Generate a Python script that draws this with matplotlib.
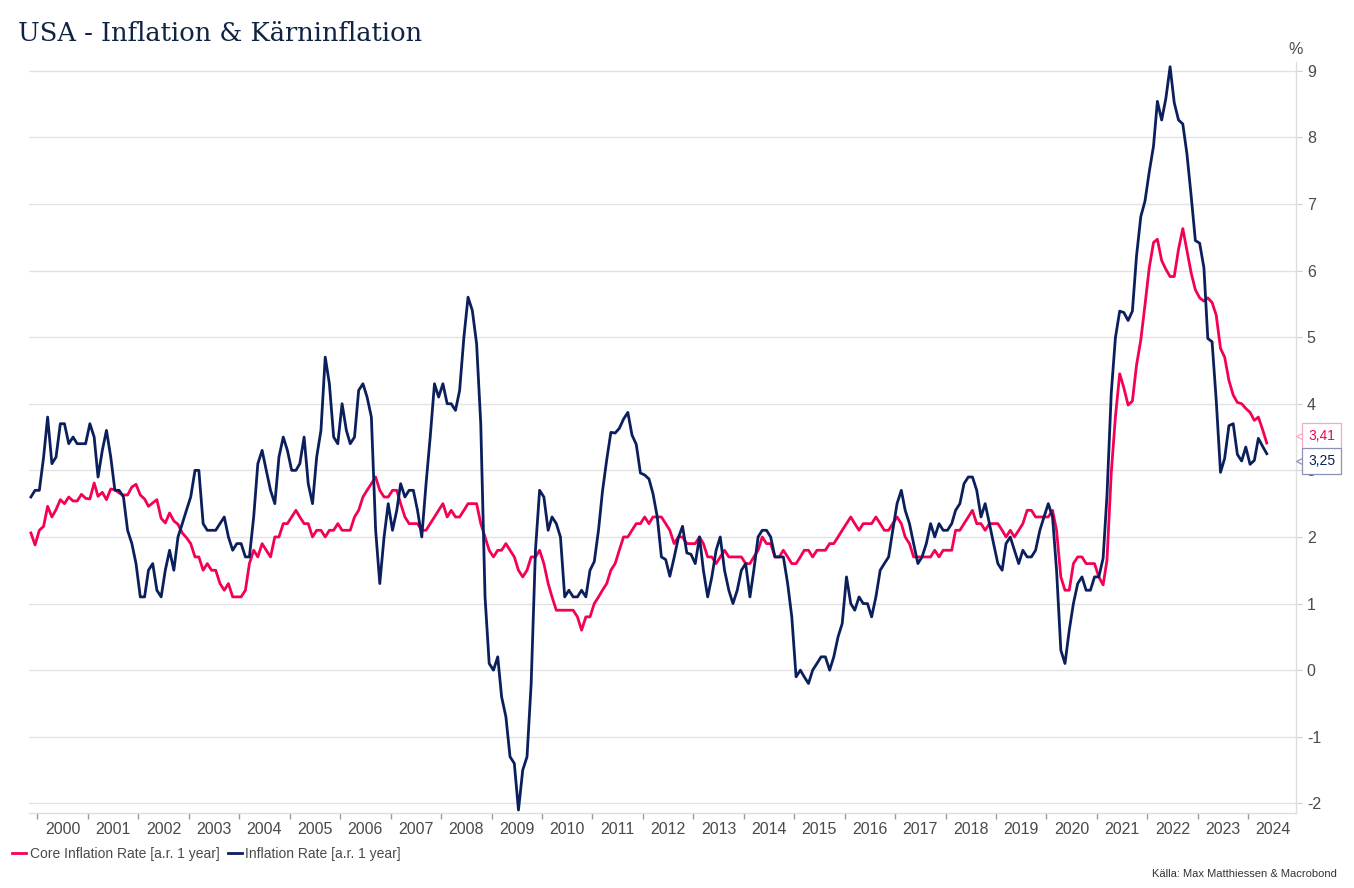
import matplotlib.pyplot as plt
import matplotlib.dates as mdates
import matplotlib.transforms as mtransforms
import pandas as pd

# monthly data, Nov 1999 - May 2024 (year-over-year %)
start_month = '1999-11-01'
end_month = '2024-05-01'

inflation = [
    2.6, 2.7,                                                         # 1999 Nov-Dec
    2.7, 3.2, 3.8, 3.1, 3.2, 3.7, 3.7, 3.4, 3.5, 3.4, 3.4, 3.4,       # 2000
    3.7, 3.5, 2.9, 3.3, 3.6, 3.2, 2.7, 2.7, 2.6, 2.1, 1.9, 1.6,       # 2001
    1.1, 1.1, 1.5, 1.6, 1.2, 1.1, 1.5, 1.8, 1.5, 2.0, 2.2, 2.4,       # 2002
    2.6, 3.0, 3.0, 2.2, 2.1, 2.1, 2.1, 2.2, 2.3, 2.0, 1.8, 1.9,       # 2003
    1.9, 1.7, 1.7, 2.3, 3.1, 3.3, 3.0, 2.7, 2.5, 3.2, 3.5, 3.3,       # 2004
    3.0, 3.0, 3.1, 3.5, 2.8, 2.5, 3.2, 3.6, 4.7, 4.3, 3.5, 3.4,       # 2005
    4.0, 3.6, 3.4, 3.5, 4.2, 4.3, 4.1, 3.8, 2.1, 1.3, 2.0, 2.5,       # 2006
    2.1, 2.4, 2.8, 2.6, 2.7, 2.7, 2.4, 2.0, 2.8, 3.5, 4.3, 4.1,       # 2007
    4.3, 4.0, 4.0, 3.9, 4.2, 5.0, 5.6, 5.4, 4.9, 3.7, 1.1, 0.1,       # 2008
    0.0, 0.2, -0.4, -0.7, -1.3, -1.4, -2.1, -1.5, -1.3, -0.2, 1.8, 2.7,  # 2009
    2.6, 2.1, 2.3, 2.2, 2.0, 1.1, 1.2, 1.1, 1.1, 1.2, 1.1, 1.5,       # 2010
    1.63, 2.11, 2.68, 3.16, 3.57, 3.56, 3.63, 3.77, 3.87, 3.53, 3.39, 2.96,  # 2011
    2.93, 2.87, 2.65, 2.30, 1.70, 1.66, 1.41, 1.69, 1.99, 2.16, 1.76, 1.74,  # 2012
    1.6, 2.0, 1.5, 1.1, 1.4, 1.8, 2.0, 1.5, 1.2, 1.0, 1.2, 1.5,       # 2013
    1.6, 1.1, 1.5, 2.0, 2.1, 2.1, 2.0, 1.7, 1.7, 1.7, 1.3, 0.8,       # 2014
    -0.1, 0.0, -0.1, -0.2, 0.0, 0.1, 0.2, 0.2, 0.0, 0.2, 0.5, 0.7,    # 2015
    1.4, 1.0, 0.9, 1.1, 1.0, 1.0, 0.8, 1.1, 1.5, 1.6, 1.7, 2.1,       # 2016
    2.5, 2.7, 2.4, 2.2, 1.9, 1.6, 1.7, 1.9, 2.2, 2.0, 2.2, 2.1,       # 2017
    2.1, 2.2, 2.4, 2.5, 2.8, 2.9, 2.9, 2.7, 2.3, 2.5, 2.2, 1.9,       # 2018
    1.6, 1.5, 1.9, 2.0, 1.8, 1.6, 1.8, 1.7, 1.7, 1.8, 2.1, 2.3,       # 2019
    2.5, 2.3, 1.5, 0.3, 0.1, 0.6, 1.0, 1.3, 1.4, 1.2, 1.2, 1.4,       # 2020
    1.40, 1.68, 2.62, 4.16, 4.99, 5.39, 5.37, 5.25, 5.39, 6.22, 6.81, 7.04,  # 2021
    7.48, 7.87, 8.54, 8.26, 8.58, 9.06, 8.52, 8.26, 8.20, 7.75, 7.11, 6.45,  # 2022
    6.41, 6.04, 4.98, 4.93, 4.05, 2.97, 3.18, 3.67, 3.70, 3.24, 3.14, 3.35,  # 2023
    3.09, 3.15, 3.48, 3.36, 3.25,                                     # 2024 Jan-May
]

core_inflation = [
    2.06, 1.88,                                                                   # 1999 Nov-Dec
    2.10, 2.16, 2.46, 2.30, 2.41, 2.56, 2.50, 2.60, 2.54, 2.54, 2.64, 2.58,       # 2000
    2.57, 2.81, 2.61, 2.67, 2.56, 2.72, 2.71, 2.66, 2.63, 2.63, 2.75, 2.79,       # 2001
    2.63, 2.57, 2.46, 2.51, 2.56, 2.28, 2.21, 2.36, 2.24, 2.19, 2.06, 1.99,       # 2002
    1.9, 1.7, 1.7, 1.5, 1.6, 1.5, 1.5, 1.3, 1.2, 1.3, 1.1, 1.1,       # 2003
    1.1, 1.2, 1.6, 1.8, 1.7, 1.9, 1.8, 1.7, 2.0, 2.0, 2.2, 2.2,       # 2004
    2.3, 2.4, 2.3, 2.2, 2.2, 2.0, 2.1, 2.1, 2.0, 2.1, 2.1, 2.2,       # 2005
    2.1, 2.1, 2.1, 2.3, 2.4, 2.6, 2.7, 2.8, 2.9, 2.7, 2.6, 2.6,       # 2006
    2.7, 2.7, 2.5, 2.3, 2.2, 2.2, 2.2, 2.1, 2.1, 2.2, 2.3, 2.4,       # 2007
    2.5, 2.3, 2.4, 2.3, 2.3, 2.4, 2.5, 2.5, 2.5, 2.2, 2.0, 1.8,       # 2008
    1.7, 1.8, 1.8, 1.9, 1.8, 1.7, 1.5, 1.4, 1.5, 1.7, 1.7, 1.8,       # 2009
    1.6, 1.3, 1.1, 0.9, 0.9, 0.9, 0.9, 0.9, 0.8, 0.6, 0.8, 0.8,       # 2010
    1.0, 1.1, 1.2, 1.3, 1.5, 1.6, 1.8, 2.0, 2.0, 2.1, 2.2, 2.2,       # 2011
    2.3, 2.2, 2.3, 2.3, 2.3, 2.2, 2.1, 1.9, 2.0, 2.0, 1.9, 1.9,       # 2012
    1.9, 2.0, 1.9, 1.7, 1.7, 1.6, 1.7, 1.8, 1.7, 1.7, 1.7, 1.7,       # 2013
    1.6, 1.6, 1.7, 1.8, 2.0, 1.9, 1.9, 1.7, 1.7, 1.8, 1.7, 1.6,       # 2014
    1.6, 1.7, 1.8, 1.8, 1.7, 1.8, 1.8, 1.8, 1.9, 1.9, 2.0, 2.1,       # 2015
    2.2, 2.3, 2.2, 2.1, 2.2, 2.2, 2.2, 2.3, 2.2, 2.1, 2.1, 2.2,       # 2016
    2.3, 2.2, 2.0, 1.9, 1.7, 1.7, 1.7, 1.7, 1.7, 1.8, 1.7, 1.8,       # 2017
    1.8, 1.8, 2.1, 2.1, 2.2, 2.3, 2.4, 2.2, 2.2, 2.1, 2.2, 2.2,       # 2018
    2.2, 2.1, 2.0, 2.1, 2.0, 2.1, 2.2, 2.4, 2.4, 2.3, 2.3, 2.3,       # 2019
    2.3, 2.4, 2.1, 1.4, 1.2, 1.2, 1.6, 1.7, 1.7, 1.6, 1.6, 1.6,       # 2020
    1.40, 1.28, 1.65, 2.96, 3.80, 4.45, 4.24, 3.98, 4.04, 4.58, 4.96, 5.48,  # 2021
    6.04, 6.42, 6.47, 6.15, 6.02, 5.91, 5.91, 6.32, 6.63, 6.30, 5.96, 5.71,  # 2022
    5.59, 5.54, 5.59, 5.52, 5.33, 4.83, 4.70, 4.35, 4.13, 4.02, 4.00, 3.93,  # 2023
    3.87, 3.75, 3.80, 3.61, 3.41,                                     # 2024 Jan-May
]

years = list(range(2000, 2025))

core_color = '#F50057'
infl_color = '#0A1F5C'
grid_color = '#E2E2E2'
text_color = '#4A4A4A'

# monthly points are placed mid-month
dates = pd.date_range(start_month, end_month, freq='MS') + pd.Timedelta(days=14)

plt.rcParams['font.family'] = ['Liberation Sans', 'DejaVu Sans']
plt.rcParams['axes.unicode_minus'] = False

fig = plt.figure(figsize=(13.54, 8.88), dpi=100)
ax = fig.add_axes([0.0214, 0.0848, 0.9355, 0.8457])

ax.plot(dates, core_inflation, color=core_color, linewidth=2.0,
        label='Core Inflation Rate [a.r. 1 year]', zorder=3)
ax.plot(dates, inflation, color=infl_color, linewidth=2.0,
        label='Inflation Rate [a.r. 1 year]', zorder=4)

ax.set_xlim(pd.Timestamp('1999-11-01'), pd.Timestamp('2024-12-10'))
ax.set_ylim(-2.14, 9.135)
ax.set_yticks(range(-2, 10))
ax.yaxis.tick_right()
ax.grid(axis='y', color=grid_color, linewidth=1.0, zorder=0)

# year ticks at boundaries, labels centred in each year
ax.set_xticks([pd.Timestamp(f'{y}-01-01') for y in years])
ax.set_xticklabels([])
ax.set_xticks([pd.Timestamp(f'{y}-07-02') for y in years], minor=True)
ax.set_xticklabels([str(y) for y in years], minor=True)
ax.tick_params(axis='x', which='major', length=4, color='#9A9A9A', width=1)
ax.tick_params(axis='x', which='minor', length=0, pad=7, labelsize=11.5, labelcolor=text_color)
ax.tick_params(axis='y', length=4, color='#D0D0D0', pad=4, labelsize=11.5, labelcolor=text_color)

for side in ['left', 'top']:
    ax.spines[side].set_visible(False)
for side in ['right', 'bottom']:
    ax.spines[side].set_color('#DEDEDE')
    ax.spines[side].set_linewidth(1.0)

# end-value labels
trans = mtransforms.blended_transform_factory(ax.transAxes, ax.transData)
for val, col, edge, dy in [(core_inflation[-1], core_color, '#F7A9C1', 5.0),
                           (inflation[-1], infl_color, '#8A93B5', -5.2)]:
    mtrans = mtransforms.offset_copy(trans, fig=fig, x=3.6, y=dy, units='points')
    ax.plot([1], [val], marker='<', markersize=6.5, markerfacecolor='white',
            markeredgecolor=edge, markeredgewidth=0.9, transform=mtrans,
            clip_on=False, zorder=6)
    ax.annotate(f'{val:.2f}'.replace('.', ','), xy=(1, val), xycoords=trans,
                xytext=(9.0, dy), textcoords='offset points', ha='left', va='center',
                fontsize=10, color=col, zorder=7, annotation_clip=False,
                bbox=dict(boxstyle='square,pad=0.42', facecolor='white', edgecolor=edge, linewidth=0.9))

fig.text(0.9565, 0.944, '%', ha='center', va='center', fontsize=11.5, color=text_color)

fig.text(0.013, 0.976, 'USA - Inflation & Kärninflation', ha='left', va='top',
         fontsize=18.5, color='#0F2342', family='DejaVu Serif')

fig.legend(loc='center left', bbox_to_anchor=(0.009, 0.038), ncol=2, frameon=False,
           fontsize=10, handlelength=1.0, handletextpad=0.25, columnspacing=0.6,
           borderpad=0, borderaxespad=0, labelcolor=text_color)

fig.text(0.987, 0.016, 'Källa: Max Matthiessen & Macrobond', ha='right', va='center',
         fontsize=8, color='#333333')

fig.savefig('out.png', dpi=100)
